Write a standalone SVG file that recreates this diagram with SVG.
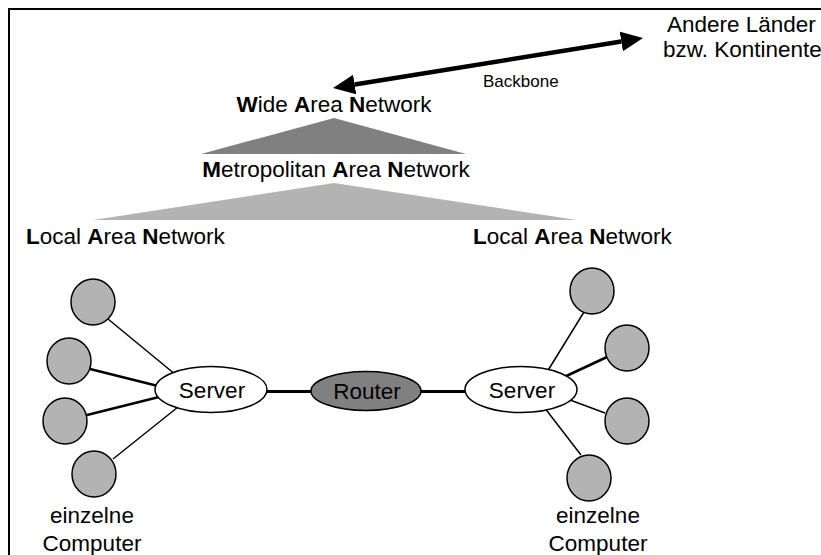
<svg xmlns="http://www.w3.org/2000/svg" width="821" height="555" viewBox="0 0 821 555">
<style>
text{font-family:"Liberation Sans",Arial,sans-serif;font-size:22.5px;fill:#000}
.b{font-weight:bold}
.pc{fill:#b3b3b3;stroke:#000;stroke-width:1.5}
.srv{fill:#fff;stroke:#000;stroke-width:1.5}
.ln{stroke:#000;stroke-width:1.5;fill:none}
.lt{stroke:#000;stroke-width:2.5;fill:none}
.th{stroke:#000;stroke-width:3;fill:none}
</style>
<defs>
<marker id="ah" markerUnits="userSpaceOnUse" markerWidth="23" markerHeight="22" refX="0" refY="11" orient="auto-start-reverse" viewBox="0 0 23 22">
<path d="M0,1 L22,11 L0,21 z" fill="#000"/>
</marker>
</defs>
<rect x="9" y="9" width="900" height="600" fill="#fff" stroke="#000" stroke-width="2"/>
<g id="connectors">
<line x1="354.7" y1="84.5" x2="621.3" y2="41.5" stroke="#000" stroke-width="4.5" marker-start="url(#ah)" marker-end="url(#ah)"/>
<line class="ln" x1="108" y1="319" x2="176" y2="375"/>
<line class="lt" x1="90" y1="369" x2="158" y2="386"/>
<line class="lt" x1="87" y1="415" x2="159" y2="397"/>
<line class="ln" x1="113" y1="459" x2="178" y2="407"/>
<line class="ln" x1="584" y1="312" x2="547" y2="372"/>
<line class="lt" x1="607" y1="357" x2="562" y2="378"/>
<line class="ln" x1="605" y1="413" x2="570" y2="400"/>
<line class="ln" x1="581" y1="455" x2="544" y2="407"/>
<line class="th" x1="265" y1="391.5" x2="313" y2="391.5"/>
<line class="th" x1="419" y1="391.5" x2="467" y2="391.5"/>
</g>
<g id="backbone-label"><text x="483" y="87" style="font-size:17px">Backbone</text></g>
<g id="other-countries">
<text x="667" y="32">Andere Länder</text>
<text x="663" y="57">bzw. Kontinente</text>
</g>
<g id="wan">
<text x="334" y="112" text-anchor="middle"><tspan class="b">W</tspan>ide <tspan class="b">A</tspan>rea <tspan class="b">N</tspan>etwork</text>
<polygon points="334,118 201,154 466,154" fill="#808080"/>
</g>
<g id="man">
<text x="336" y="177" text-anchor="middle"><tspan class="b">M</tspan>etropolitan <tspan class="b">A</tspan>rea <tspan class="b">N</tspan>etwork</text>
<polygon points="334,183 93,220 577,220" fill="#b3b3b3"/>
</g>
<g id="lan-left"><text x="26" y="244"><tspan class="b">L</tspan>ocal <tspan class="b">A</tspan>rea <tspan class="b">N</tspan>etwork</text></g>
<g id="lan-right"><text x="473" y="244"><tspan class="b">L</tspan>ocal <tspan class="b">A</tspan>rea <tspan class="b">N</tspan>etwork</text></g>
<g id="pc-l1"><ellipse class="pc" cx="93" cy="302" rx="22" ry="23"/></g>
<g id="pc-l2"><ellipse class="pc" cx="69" cy="361" rx="22" ry="23"/></g>
<g id="pc-l3"><ellipse class="pc" cx="65" cy="421" rx="22" ry="23"/></g>
<g id="pc-l4"><ellipse class="pc" cx="94" cy="474" rx="22" ry="23"/></g>
<g id="pc-r1"><ellipse class="pc" cx="592" cy="291" rx="22" ry="23"/></g>
<g id="pc-r2"><ellipse class="pc" cx="627" cy="348" rx="22" ry="23"/></g>
<g id="pc-r3"><ellipse class="pc" cx="627" cy="421" rx="22" ry="23"/></g>
<g id="pc-r4"><ellipse class="pc" cx="589" cy="478" rx="22" ry="23"/></g>
<g id="server-left"><ellipse class="srv" cx="211" cy="389.5" rx="56" ry="23"/><text x="212" y="398" text-anchor="middle">Server</text></g>
<g id="router"><ellipse cx="366" cy="391" rx="55" ry="19.5" fill="#808080" stroke="#000" stroke-width="1.5"/><text x="367" y="399" text-anchor="middle">Router</text></g>
<g id="server-right"><ellipse class="srv" cx="521" cy="389.5" rx="56" ry="23"/><text x="522" y="398" text-anchor="middle">Server</text></g>
<g id="label-left"><text x="92" y="523" text-anchor="middle">einzelne</text><text x="92" y="551" text-anchor="middle">Computer</text></g>
<g id="label-right"><text x="598" y="523" text-anchor="middle">einzelne</text><text x="598" y="551" text-anchor="middle">Computer</text></g>
</svg>
